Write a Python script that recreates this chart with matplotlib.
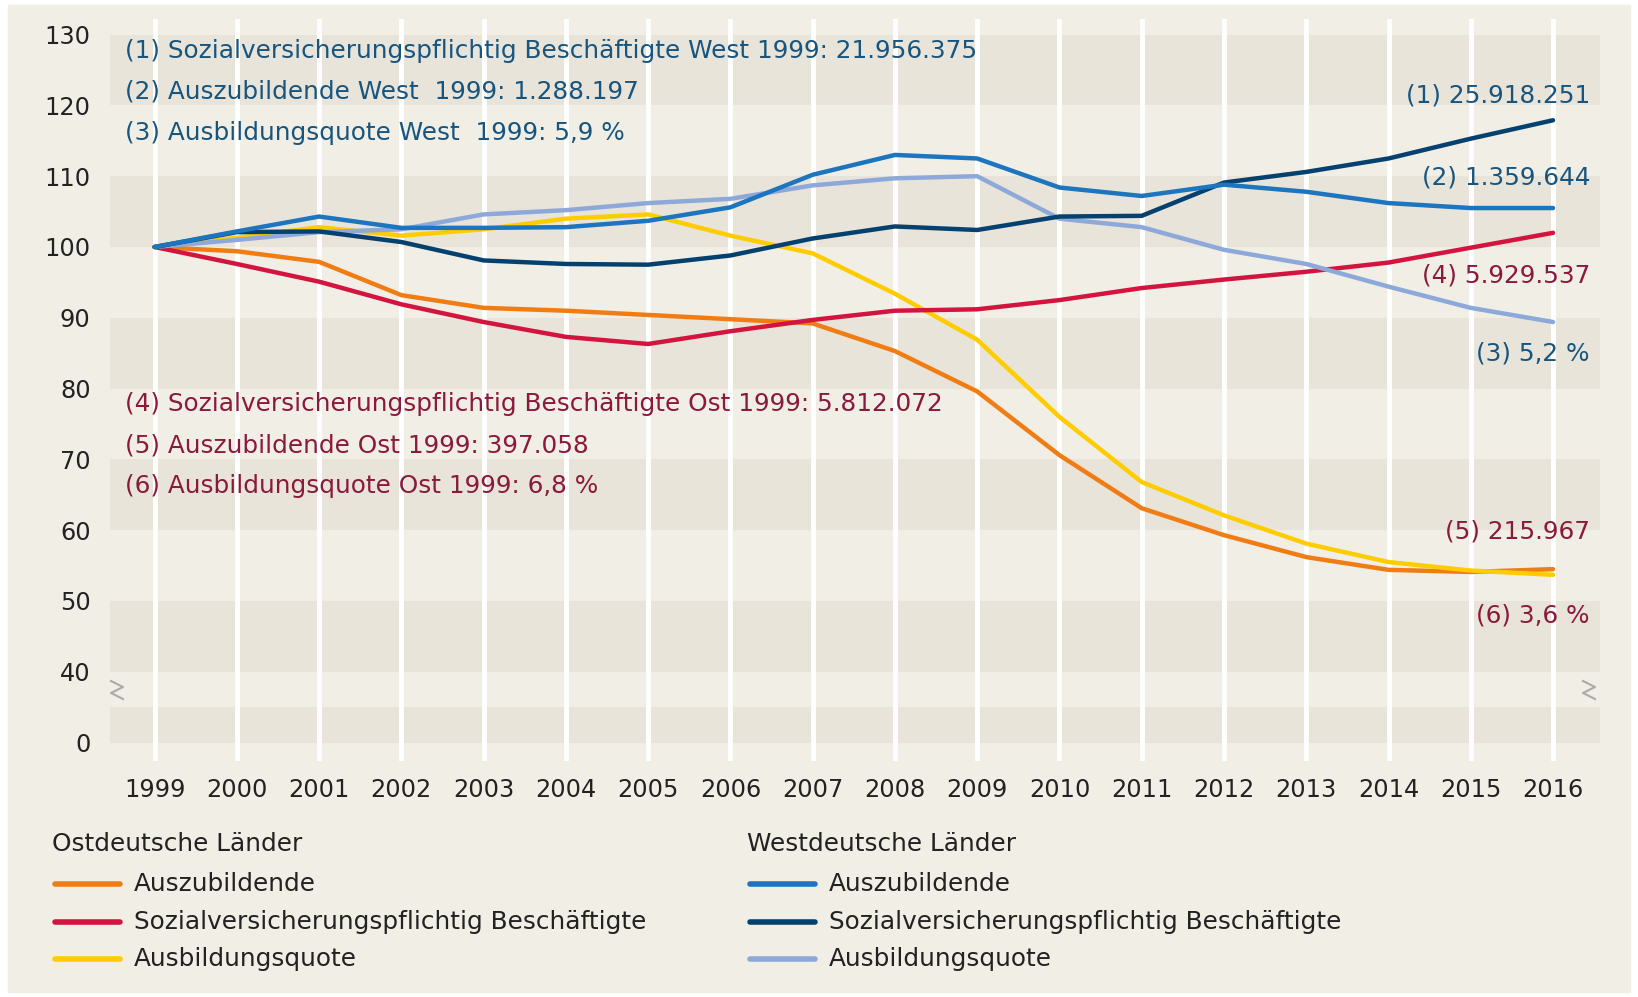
import matplotlib.pyplot as plt
from matplotlib.lines import Line2D
import numpy as np

years = list(range(1999, 2017))

# Index 1999 = 100
west_azubi = [100, 102.2, 104.3, 102.7, 102.7, 102.8, 103.7, 105.6, 110.2, 113.0,
              112.5, 108.4, 107.2, 108.8, 107.8, 106.2, 105.5, 105.5]
west_svb = [100, 102.1, 102.2, 100.7, 98.1, 97.6, 97.5, 98.8, 101.2, 102.9,
            102.4, 104.3, 104.4, 109.1, 110.6, 112.5, 115.3, 117.9]
west_quote = [100, 101.0, 102.1, 102.5, 104.6, 105.2, 106.2, 106.8, 108.7, 109.7,
              110.0, 104.0, 102.8, 99.6, 97.6, 94.4, 91.4, 89.4]
ost_azubi = [100, 99.4, 97.9, 93.2, 91.4, 91.0, 90.4, 89.8, 89.2, 85.3,
             79.6, 70.6, 63.1, 59.3, 56.2, 54.4, 54.1, 54.5]
ost_svb = [100, 97.6, 95.1, 91.9, 89.4, 87.3, 86.3, 88.1, 89.7, 91.0,
           91.2, 92.5, 94.2, 95.4, 96.5, 97.8, 99.9, 102.0]
ost_quote = [100, 101.3, 102.8, 101.6, 102.5, 104.0, 104.6, 101.6, 99.1, 93.4,
             86.9, 76.0, 66.8, 62.1, 58.1, 55.5, 54.3, 53.7]

ytick_vals = [30, 40, 50, 60, 70, 80, 90, 100, 110, 120, 130]
ytick_labels = ['0', '40', '50', '60', '70', '80', '90', '100', '110', '120', '130']

c_ost_azubi = '#F07D14'
c_ost_svb = '#D2143F'
c_ost_quote = '#FFCC00'
c_w_azubi = '#1C75BE'
c_w_svb = '#05416F'
c_w_quote = '#8DA9DA'
c_west_txt = '#17557F'
c_ost_txt = '#8A1A3C'
bg = '#F1EEE6'
band = '#E8E4D9'
txt = '#222222'

plt.rcParams['font.family'] = ['DejaVu Sans']
fs = 17.8

fig = plt.figure(figsize=(16.38, 9.97), dpi=100)
fig.patch.set_facecolor('white')
# beige card
card = plt.Rectangle((8 / 1638, 5 / 997), 1622 / 1638, 987 / 997,
                     transform=fig.transFigure, color=bg, zorder=-10)
fig.add_artist(card)

ax = fig.add_axes([110 / 1638, 236 / 997, 1490 / 1638, 742 / 997])
ax.set_zorder(1)
ax.set_facecolor('none')
ax.set_xlim(1998.458, 2016.571)
ax.set_ylim(27.4, 132.2)

for lo, hi in [(120, 130), (100, 110), (80, 90), (60, 70), (40, 50), (30, 35)]:
    ax.axhspan(lo, hi, color=band, lw=0, zorder=0)
for y in years:
    ax.axvline(y, color='white', lw=3.5, zorder=1)

series = [
    (ost_azubi, c_ost_azubi), (ost_quote, c_ost_quote), (ost_svb, c_ost_svb),
    (west_quote, c_w_quote), (west_svb, c_w_svb), (west_azubi, c_w_azubi),
]
for vals, c in series:
    ax.plot(years, vals, color=c, lw=3.2, solid_capstyle='round', zorder=3)

for s in ax.spines.values():
    s.set_visible(False)
ax.set_xticks(years)
ax.set_xticklabels([str(y) for y in years], fontsize=17.3, color=txt)
ax.set_yticks(ytick_vals)
ax.set_yticklabels(ytick_labels, fontsize=17.3, color=txt)
ax.tick_params(length=0)
ax.tick_params(axis='y', pad=14)
ax.tick_params(axis='x', pad=12)

# axis break marks
for xf in [117 / 1638, 1589 / 1638]:
    px = np.array([-6, 6, -6, 6]) / 1638
    py = np.array([9, 3, -3, -9]) / 997
    fig.add_artist(Line2D(xf + px, 307 / 997 + py, color='#AAAAAA', lw=1.5,
                          transform=fig.transFigure, zorder=5))

# annotations
west_notes = ['(1) Sozialversicherungspflichtig Beschäftigte West 1999: 21.956.375',
              '(2) Auszubildende West  1999: 1.288.197',
              '(3) Ausbildungsquote West  1999: 5,9 %']
for i, t in enumerate(west_notes):
    fig.text(125 / 1638, 1 - (51 + 41 * i) / 997, t, color=c_west_txt,
             fontsize=fs, va='center', ha='left', zorder=5)
ost_notes = ['(4) Sozialversicherungspflichtig Beschäftigte Ost 1999: 5.812.072',
             '(5) Auszubildende Ost 1999: 397.058',
             '(6) Ausbildungsquote Ost 1999: 6,8 %']
for i, t in enumerate(ost_notes):
    fig.text(125 / 1638, 1 - (404 + 41 * i) / 997, t, color=c_ost_txt,
             fontsize=fs, va='center', ha='left', zorder=5)

right_labels = [('(1) 25.918.251', 95, c_west_txt), ('(2) 1.359.644', 178, c_west_txt),
                ('(4) 5.929.537', 276, c_ost_txt), ('(3) 5,2 %', 353, c_west_txt),
                ('(5) 215.967', 531, c_ost_txt), ('(6) 3,6 %', 616, c_ost_txt)]
for t, y, c in right_labels:
    fig.text(1590 / 1638, 1 - y / 997, t, color=c, fontsize=fs, va='center', ha='right',
             zorder=5)

# legend
groups = [
    (52, 'Ostdeutsche Länder', [('Auszubildende', c_ost_azubi),
                                ('Sozialversicherungspflichtig Beschäftigte', c_ost_svb),
                                ('Ausbildungsquote', c_ost_quote)]),
    (747, 'Westdeutsche Länder', [('Auszubildende', c_w_azubi),
                                  ('Sozialversicherungspflichtig Beschäftigte', c_w_svb),
                                  ('Ausbildungsquote', c_w_quote)]),
]
for x0, head, items in groups:
    fig.text(x0 / 1638, 1 - 844 / 997, head, color=txt, fontsize=fs, va='center')
    for i, (lab, c) in enumerate(items):
        yy = 1 - (884 + 37.5 * i) / 997
        fig.add_artist(Line2D([(x0 + 3) / 1638, (x0 + 68) / 1638], [yy, yy], color=c,
                              lw=4, solid_capstyle='round', transform=fig.transFigure))
        fig.text((x0 + 82) / 1638, yy, lab, color=txt, fontsize=fs, va='center')

fig.savefig('out.png', dpi=100, facecolor=fig.get_facecolor())
